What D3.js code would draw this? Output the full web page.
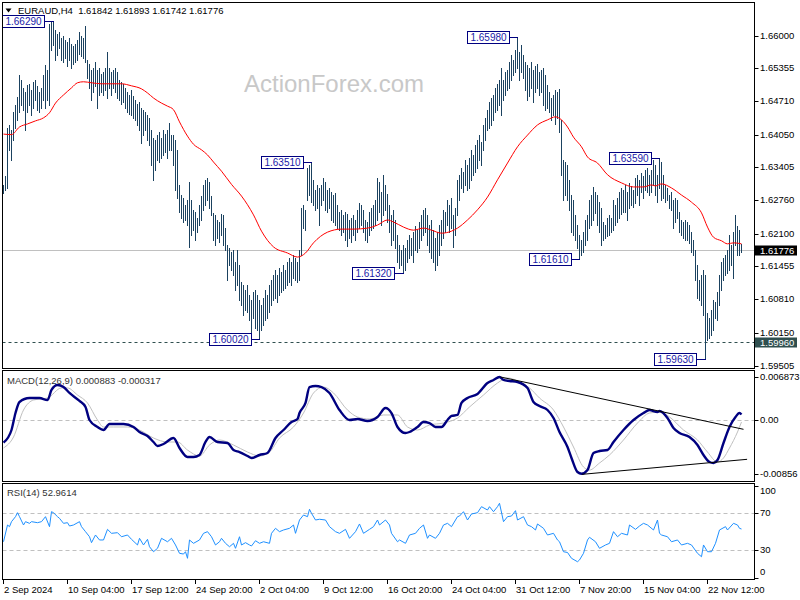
<!DOCTYPE html>
<html><head><meta charset="utf-8">
<script src="https://cdn.jsdelivr.net/npm/d3@7"></script>
<style>
body{margin:0;background:#fff}
svg{display:block}
text{font-family:"Liberation Sans",Arial,sans-serif;font-size:9.5px}
</style>
</head><body>
<svg id="c" width="800" height="600"></svg>
<script>
// ---------- DATA ----------
const headerText = "EURAUD,H4  1.61842 1.61893 1.61742 1.61776";
const lastPrice = 1.61776;
const supportLevel = 1.5996;

const highs = [
1.6306,1.6324,1.6418,1.6424,1.6414,1.6450,1.6464,1.6479,1.6522,1.6513,
1.6497,1.6489,1.6503,1.6505,1.6493,1.6509,1.6513,1.6501,1.6489,1.6497,
1.6522,1.6542,1.6532,1.6622,1.6626,1.6629,1.6611,1.6603,1.6607,1.6595,
1.6599,1.6591,1.6587,1.6595,1.6583,1.6579,1.6583,1.6591,1.6607,1.6599,
1.6595,1.6619,1.6552,1.6544,1.6532,1.6536,1.6548,1.6532,1.6536,1.6524,
1.6528,1.6536,1.6568,1.6536,1.6528,1.6532,1.6536,1.6528,1.6513,1.6509,
1.6505,1.6497,1.6489,1.6483,1.6493,1.6481,1.6473,1.6466,1.6470,1.6458,
1.6454,1.6450,1.6444,1.6438,1.6414,1.6399,1.6395,1.6405,1.6410,1.6399,
1.6414,1.6407,1.6414,1.6428,1.6405,1.6405,1.6395,1.6375,1.6306,1.6286,
1.6280,1.6267,1.6276,1.6312,1.6276,1.6257,1.6253,1.6241,1.6267,1.6284,
1.6306,1.6316,1.6320,1.6312,1.6284,1.6251,1.6247,1.6237,1.6233,1.6249,
1.6247,1.6221,1.6188,1.6182,1.6174,1.6178,1.6154,1.6178,1.6148,1.6115,
1.6109,1.6099,1.6109,1.6089,1.6080,1.6095,1.6099,1.6089,1.6080,1.6070,
1.6084,1.6099,1.6089,1.6109,1.6119,1.6129,1.6139,1.6129,1.6143,1.6135,
1.6148,1.6139,1.6154,1.6162,1.6154,1.6168,1.6162,1.6154,1.6178,1.6261,
1.6267,1.6257,1.6339,1.6345,1.6351,1.6316,1.6296,1.6306,1.6300,1.6306,
1.6320,1.6312,1.6296,1.6300,1.6292,1.6286,1.6290,1.6267,1.6253,1.6257,
1.6247,1.6253,1.6249,1.6237,1.6241,1.6247,1.6237,1.6257,1.6271,1.6267,
1.6257,1.6237,1.6233,1.6253,1.6261,1.6267,1.6276,1.6320,1.6312,1.6292,
1.6326,1.6306,1.6288,1.6267,1.6247,1.6257,1.6237,1.6207,1.6188,1.6178,
1.6188,1.6182,1.6198,1.6207,1.6202,1.6213,1.6225,1.6217,1.6233,1.6247,
1.6257,1.6261,1.6247,1.6227,1.6237,1.6217,1.6202,1.6213,1.6227,1.6237,
1.6257,1.6253,1.6276,1.6267,1.6280,1.6247,1.6261,1.6316,1.6326,1.6339,
1.6331,1.6355,1.6345,1.6359,1.6375,1.6365,1.6385,1.6395,1.6405,1.6391,
1.6424,1.6438,1.6454,1.6470,1.6477,1.6483,1.6497,1.6505,1.6513,1.6536,
1.6513,1.6528,1.6532,1.6548,1.6562,1.6552,1.6572,1.6598,1.6568,1.6581,
1.6562,1.6548,1.6542,1.6536,1.6548,1.6532,1.6540,1.6544,1.6528,1.6532,
1.6536,1.6522,1.6503,1.6489,1.6477,1.6483,1.6493,1.6489,1.6495,1.6434,
1.6355,1.6351,1.6345,1.6316,1.6286,1.6276,1.6247,1.6227,1.6207,1.6198,
1.6213,1.6237,1.6247,1.6276,1.6286,1.6302,1.6292,1.6286,1.6272,1.6261,
1.6233,1.6227,1.6241,1.6247,1.6241,1.6276,1.6267,1.6280,1.6292,1.6300,
1.6296,1.6306,1.6292,1.6310,1.6304,1.6296,1.6320,1.6326,1.6316,1.6330,
1.6324,1.6335,1.6339,1.6326,1.6335,1.6355,1.6345,1.6326,1.6359,1.6351,
1.6326,1.6306,1.6300,1.6286,1.6292,1.6276,1.6280,1.6276,1.6253,1.6237,
1.6233,1.6237,1.6233,1.6227,1.6213,1.6198,1.6178,1.6148,1.6119,1.6129,
1.6139,1.6129,1.6054,1.6044,1.6060,1.6080,1.6076,1.6095,1.6129,1.6154,
1.6162,1.6168,1.6178,1.6207,1.6188,1.6213,1.6247,1.6225,1.6217,1.61893];

const lows = [
1.6290,1.6296,1.6300,1.6375,1.6355,1.6395,1.6418,1.6434,1.6450,1.6464,
1.6454,1.6414,1.6450,1.6464,1.6444,1.6458,1.6473,1.6454,1.6450,1.6458,
1.6473,1.6458,1.6473,1.6464,1.6572,1.6581,1.6552,1.6562,1.6576,1.6552,
1.6548,1.6556,1.6540,1.6552,1.6536,1.6544,1.6548,1.6552,1.6564,1.6560,
1.6556,1.6548,1.6517,1.6497,1.6473,1.6489,1.6501,1.6458,1.6483,1.6489,
1.6483,1.6493,1.6477,1.6497,1.6483,1.6497,1.6489,1.6477,1.6473,1.6466,
1.6470,1.6458,1.6450,1.6446,1.6444,1.6438,1.6434,1.6424,1.6414,1.6389,
1.6405,1.6414,1.6395,1.6385,1.6345,1.6316,1.6335,1.6355,1.6351,1.6359,
1.6365,1.6371,1.6359,1.6375,1.6375,1.6345,1.6296,1.6281,1.6253,1.6241,
1.6233,1.6237,1.6227,1.6184,1.6207,1.6217,1.6198,1.6213,1.6227,1.6237,
1.6257,1.6267,1.6276,1.6261,1.6247,1.6198,1.6188,1.6202,1.6194,1.6207,
1.6188,1.6178,1.6119,1.6148,1.6139,1.6129,1.6099,1.6109,1.6080,1.6070,
1.6050,1.6060,1.6056,1.6040,1.6016,1.6044,1.6024,1.6020,1.6002,1.6020,
1.6030,1.6040,1.6044,1.6056,1.6070,1.6080,1.6084,1.6076,1.6089,1.6095,
1.6099,1.6103,1.6109,1.6115,1.6109,1.6123,1.6119,1.6115,1.6119,1.6168,
1.6221,1.6217,1.6276,1.6286,1.6273,1.6267,1.6257,1.6261,1.6227,1.6267,
1.6276,1.6257,1.6253,1.6261,1.6237,1.6233,1.6227,1.6221,1.6217,1.6207,
1.6213,1.6198,1.6186,1.6202,1.6194,1.6207,1.6198,1.6213,1.6221,1.6227,
1.6213,1.6198,1.6194,1.6207,1.6217,1.6221,1.6227,1.6237,1.6253,1.6227,
1.6247,1.6257,1.6233,1.6213,1.6188,1.6198,1.6182,1.6154,1.6143,1.6148,
1.6132,1.6139,1.6154,1.6162,1.6168,1.6154,1.6178,1.6174,1.6182,1.6198,
1.6207,1.6213,1.6188,1.6174,1.6162,1.6154,1.6139,1.6148,1.6168,1.6188,
1.6202,1.6213,1.6227,1.6213,1.6221,1.6184,1.6207,1.6247,1.6276,1.6300,
1.6292,1.6306,1.6296,1.6300,1.6316,1.6326,1.6331,1.6339,1.6355,1.6345,
1.6375,1.6395,1.6414,1.6418,1.6424,1.6434,1.6450,1.6454,1.6464,1.6444,
1.6473,1.6483,1.6493,1.6497,1.6513,1.6522,1.6528,1.6536,1.6513,1.6528,
1.6517,1.6493,1.6473,1.6481,1.6497,1.6470,1.6489,1.6497,1.6483,1.6489,
1.6464,1.6454,1.6458,1.6450,1.6434,1.6444,1.6426,1.6438,1.6410,1.6326,
1.6276,1.6286,1.6276,1.6257,1.6213,1.6207,1.6198,1.6182,1.6161,1.6168,
1.6174,1.6188,1.6198,1.6221,1.6227,1.6237,1.6251,1.6227,1.6213,1.6188,
1.6198,1.6202,1.6206,1.6207,1.6213,1.6217,1.6227,1.6233,1.6241,1.6249,
1.6253,1.6253,1.6237,1.6261,1.6267,1.6263,1.6271,1.6286,1.6267,1.6292,
1.6280,1.6296,1.6292,1.6286,1.6292,1.6306,1.6286,1.6272,1.6300,1.6276,
1.6280,1.6272,1.6276,1.6261,1.6257,1.6221,1.6233,1.6241,1.6213,1.6207,
1.6202,1.6198,1.6198,1.6192,1.6174,1.6168,1.6119,1.6084,1.6080,1.6070,
1.6050,1.5963,1.6001,1.6005,1.6011,1.6020,1.6044,1.6040,1.6070,1.6099,
1.6119,1.6129,1.6133,1.6139,1.6148,1.6123,1.6188,1.6168,1.6168,1.61742];

// moving average (bar index, price)
const maPts = [[0,1.6406],[4,1.6405],[8,1.6420],[12,1.6426],[16,1.6432],[20,1.6438],[23,1.6448],[26,1.6467],[30,1.6483],[34,1.6497],[37,1.6507],[40,1.6509],[44,1.6507],[49,1.6505],[54,1.6505],[59,1.6505],[64,1.6501],[69,1.6495],[72,1.6487],[75,1.6477],[79,1.6467],[82,1.6461],[85,1.6454],[88,1.6430],[92,1.6402],[95,1.6386],[99,1.6375],[102,1.6365],[105,1.6351],[109,1.6333],[114,1.6307],[119,1.6284],[122,1.6267],[125,1.6247],[129,1.6215],[135,1.6184],[142,1.6172],[147,1.6164],[151,1.6172],[155,1.6192],[162,1.6213],[169,1.6219],[175,1.6219],[182,1.6221],[187,1.6227],[192,1.6237],[195,1.6233],[200,1.6223],[205,1.6217],[210,1.6221],[214,1.6217],[219,1.6211],[224,1.6215],[227,1.6221],[232,1.6237],[237,1.6257],[242,1.6282],[247,1.6316],[252,1.6349],[257,1.6381],[262,1.6404],[267,1.6424],[272,1.6434],[276,1.6440],[279,1.6434],[282,1.6420],[285,1.6400],[289,1.6381],[292,1.6361],[297,1.6349],[302,1.6326],[309,1.6310],[315,1.6302],[320,1.6302],[324,1.6306],[326,1.6304],[329,1.6308],[334,1.6300],[339,1.6286],[344,1.6272],[349,1.6251],[352,1.6223],[355,1.6203],[359,1.6196],[362,1.6190],[365,1.6192],[369,1.6190]];

const priceTicks = [1.66000,1.65355,1.64710,1.64050,1.63405,1.62760,1.62100,1.61455,1.60810,1.60150,1.59505];

const pivotIdx = [25,128,154,200,257,288,328,351];
const pivotVal = [1.66290,1.60020,1.63510,1.61320,1.65980,1.61610,1.63590,1.59630];

const macdLabel = "MACD(12,26,9) 0.000883 -0.000317";
const macdPts = [[0,-0.00361],[4,-0.00159],[6,0.00111],[8,0.00287],[13,0.00350],[18,0.00350],[22,0.00318],[24,0.00478],[27,0.00557],[30,0.00525],[33,0.00430],[38,0.00303],[41,0.00207],[43,0],[47,-0.00111],[50,-0.00159],[53,-0.00064],[60,-0.00064],[65,-0.00111],[68,-0.00191],[72,-0.00255],[75,-0.00350],[77,-0.00414],[80,-0.00382],[85,-0.00287],[88,-0.00446],[92,-0.00589],[95,-0.00589],[98,-0.00557],[101,-0.00350],[103,-0.00271],[107,-0.00350],[112,-0.00366],[115,-0.00478],[118,-0.00510],[122,-0.00573],[124,-0.00605],[128,-0.00557],[132,-0.00525],[136,-0.00287],[140,-0.00159],[144,-0.00032],[147,0.00016],[148,0.00111],[151,0.00271],[153,0.00525],[156,0.00541],[159,0.00525],[163,0.00430],[168,0.00159],[173,0],[177,0.00016],[182,-0.00016],[187,0.00048],[191,0.00191],[194,0.00111],[197,-0.00111],[201,-0.00207],[203,-0.00191],[207,-0.00111],[210,-0.00032],[213,-0.00048],[216,-0.00111],[219,-0.00111],[222,0],[224,0.00064],[227,0.00080],[229,0.00271],[232,0.00350],[237,0.00414],[242,0.00589],[245,0.00637],[248,0.00685],[250,0.00637],[253,0.00621],[257,0.00605],[262,0.00510],[265,0.00287],[268,0.00223],[272,0.00159],[275,0.00032],[278,-0.00191],[282,-0.00430],[284,-0.00605],[287,-0.00828],[289,-0.00856],[292,-0.00796],[295,-0.00525],[298,-0.00494],[302,-0.00478],[305,-0.00350],[310,-0.00159],[315,0],[320,0.00111],[323,0.00159],[327,0.00127],[328,0.00143],[332,0.00032],[335,-0.00127],[338,-0.00207],[343,-0.00271],[347,-0.00398],[350,-0.00557],[353,-0.00669],[355,-0.00685],[357,-0.00637],[360,-0.00366],[363,-0.00111],[366,0.00048],[368,0.00111],[369,0.000883]];
const signalPts = [[0,-0.00446],[5,-0.00271],[10,0.00159],[15,0.00318],[22,0.00350],[29,0.00510],[32,0.00510],[37,0.00398],[42,0.00271],[47,0],[50,-0.00111],[55,-0.00111],[62,-0.00111],[68,-0.00159],[75,-0.00287],[82,-0.00350],[87,-0.00350],[92,-0.00478],[98,-0.00573],[103,-0.00398],[108,-0.00318],[115,-0.00398],[122,-0.00510],[128,-0.00573],[133,-0.00510],[138,-0.00287],[145,-0.00111],[150,0.00111],[155,0.00430],[160,0.00525],[165,0.00430],[172,0.00159],[177,0.00048],[183,0.00016],[190,0.00080],[197,0.00080],[202,-0.00111],[207,-0.00159],[213,-0.00080],[220,-0.00048],[227,0.00032],[233,0.00207],[240,0.00398],[247,0.00589],[252,0.00669],[258,0.00605],[263,0.00510],[268,0.00350],[275,0.00159],[280,-0.00111],[285,-0.00430],[290,-0.00748],[293,-0.00796],[298,-0.00685],[303,-0.00557],[310,-0.00318],[317,-0.00048],[323,0.00111],[328,0.00127],[333,0.00048],[340,-0.00159],[347,-0.00318],[352,-0.00510],[357,-0.00669],[360,-0.00605],[363,-0.00446],[367,-0.00191],[369,-0.000317]];
const macdTicks = [0.006873, 0, -0.00856];
const macdTicksText = ["0.006873","0.00","-0.00856"];
const macdTrendlines = [[[248.5,0.00685],[370,-0.00148]],[[289.3,-0.00865],[371.8,-0.00626]]];

const rsiLabel = "RSI(14) 52.9614";
const rsiPts = [[0,39.2],[2,57.3],[3,55.5],[4,60.9],[6,66.3],[7,70.6],[8,66.3],[10,57.3],[11,60.9],[13,59.1],[14,60.9],[17,59.8],[19,60.9],[21,66.3],[23,55.5],[24,71.7],[25,70.6],[27,66.3],[28,64.5],[30,59.1],[32,59.8],[33,56.2],[35,57.3],[38,60.9],[39,55.5],[41,50.1],[43,44.6],[44,38.2],[46,46.5],[48,41.1],[50,41.1],[52,52.6],[54,48.3],[57,49.0],[59,44.6],[62,46.5],[64,41.8],[67,35.7],[68,42.9],[70,35.7],[72,41.8],[73,33.8],[75,28.4],[77,32.1],[79,42.9],[82,39.2],[84,42.9],[86,35.7],[88,26.7],[90,25.9],[91,28.4],[92,21.3],[93,41.1],[95,37.5],[98,41.1],[100,48.3],[102,50.1],[104,44.6],[106,35.7],[108,39.2],[109,42.9],[111,37.5],[113,33.8],[115,37.5],[116,32.1],[118,44.6],[119,35.7],[121,38.2],[123,35.7],[124,34.6],[126,40.3],[128,37.5],[130,39.2],[133,37.5],[134,48.3],[136,53.7],[138,50.1],[140,51.9],[143,53.7],[145,57.3],[146,48.3],[148,62.7],[150,68.1],[152,66.3],[153,74.3],[154,69.9],[156,62.7],[158,63.5],[161,62.7],[163,55.5],[166,50.1],[168,48.3],[171,52.6],[173,42.9],[176,50.1],[178,58.4],[180,48.3],[183,52.6],[185,55.5],[187,62.7],[188,57.3],[191,62.7],[193,57.3],[194,48.3],[197,39.2],[198,41.1],[201,37.5],[203,46.5],[206,48.3],[208,53.7],[210,57.3],[212,42.9],[213,46.5],[216,42.9],[218,48.3],[220,57.3],[222,59.1],[224,55.5],[227,66.3],[228,67.0],[230,71.7],[232,62.7],[234,69.2],[237,70.6],[239,77.1],[242,73.5],[243,77.1],[245,71.7],[247,77.1],[248,80.8],[250,60.9],[252,66.3],[254,67.0],[256,72.8],[257,62.7],[260,66.3],[262,57.3],[264,55.5],[266,51.9],[267,58.4],[270,53.7],[272,46.5],[275,48.3],[277,41.1],[278,39.2],[280,28.4],[282,27.6],[284,21.3],[287,17.6],[288,19.5],[290,26.7],[292,41.1],[293,44.0],[296,39.2],[298,32.1],[301,35.7],[303,37.5],[305,50.1],[307,44.6],[309,48.3],[312,46.5],[313,57.3],[316,52.6],[318,56.2],[320,59.1],[322,57.3],[325,51.9],[327,62.7],[328,48.3],[329,46.5],[332,44.6],[334,39.2],[337,41.1],[339,35.7],[342,37.5],[344,35.7],[347,26.7],[349,23.0],[350,35.7],[352,28.4],[354,28.4],[356,37.5],[358,51.9],[361,55.5],[362,51.9],[365,59.1],[367,57.3],[368,53.7],[369,52.96]];
const rsiTicks = [100,70,30,0];
const rsiLevels = [70,30];

const xTickIdx = [0,32,64,96,128,160,192,224,256,288,320,352];
const xTickText = ["2 Sep 2024","10 Sep 04:00","17 Sep 12:00","24 Sep 20:00","2 Oct 04:00","9 Oct 12:00","16 Oct 20:00","24 Oct 04:00","31 Oct 12:00","7 Nov 20:00","15 Nov 04:00","22 Nov 12:00"];

// ---------- LAYOUT ----------
const svg = d3.select("#c");
const L = 2.5, R = 754.5;
const P = {main:[2.5,368.5], macd:[370.5,481.5], rsi:[483.5,579.5]};
const x = d3.scaleLinear().domain([0,369]).range([3.5,741.5]);
const yP = d3.scaleLinear().domain([1.59437,1.66640]).range([369,3]);
const yM = d3.scaleLinear().domain([-0.00979,0.00788]).range([481.5,370.5]);
const yR = d3.scaleLinear().domain([0,100]).range([578,485.5]);

const defs = svg.append("defs");
Object.entries(P).forEach(([k,[t,b]])=>{
  defs.append("clipPath").attr("id","clip-"+k).append("rect")
    .attr("x",L+0.5).attr("y",t+0.5).attr("width",R-L-1).attr("height",b-t-1);
});

// ---------- MAIN PANEL ----------
const gM = svg.append("g").attr("clip-path","url(#clip-main)");
gM.append("text").attr("x",244).attr("y",91.5).text("ActionForex.com")
  .style("font-size","24px").attr("fill","#c8c8c8");

gM.append("line").attr("x1",L).attr("x2",R)
  .attr("y1",Math.round(yP(lastPrice))+0.5).attr("y2",Math.round(yP(lastPrice))+0.5)
  .attr("stroke","#c0c0c0");
gM.append("line").attr("x1",L).attr("x2",R)
  .attr("y1",Math.round(yP(supportLevel))+0.5).attr("y2",Math.round(yP(supportLevel))+0.5)
  .attr("stroke","#2f4f4f").attr("stroke-dasharray","3,3");

gM.selectAll("rect.bar").data(highs.map((h,i)=>({i,h,l:lows[i]}))).join("rect")
  .attr("class","bar")
  .attr("x",d=>x(d.i)-0.5).attr("width",1)
  .attr("y",d=>Math.round(yP(d.h)))
  .attr("height",d=>Math.max(1,Math.round(yP(d.l))-Math.round(yP(d.h))+1))
  .attr("fill","#1b4260").attr("shape-rendering","crispEdges");

gM.append("path").datum(maPts)
  .attr("d",d3.line().x(d=>x(d[0])).y(d=>yP(d[1])).curve(d3.curveMonotoneX))
  .attr("fill","none").attr("stroke","#ff0000").attr("stroke-width",1);

// pivot labels
pivotIdx.forEach((bi,k)=>{
  const v = pivotVal[k];
  const bx = x(bi), py = Math.round(yP(v))+0.5;
  const right = Math.round(bx-9)+0.5, left = right-42;
  gM.append("line").attr("x1",right).attr("x2",bx+0.5).attr("y1",py).attr("y2",py)
    .attr("stroke","#000080");
  gM.append("rect").attr("x",left).attr("y",py-6).attr("width",42).attr("height",12)
    .attr("fill","#fff").attr("stroke","#000080");
  gM.append("text").attr("x",(left+right)/2).attr("y",py+3.5).attr("text-anchor","middle")
    .attr("fill","#1a1aa8").text(v.toFixed(5)).style("font-size","10px");
});

// header
svg.append("path").attr("d","M5.5,8.5 L11.5,8.5 L8.5,12.5 Z").attr("fill","#000");
svg.append("text").attr("x",18).attr("y",13.5).style("white-space","pre").text(headerText);

// ---------- MACD PANEL ----------
const gD = svg.append("g").attr("clip-path","url(#clip-macd)");
gD.append("line").attr("x1",L).attr("x2",R)
  .attr("y1",Math.round(yM(0))+0.5).attr("y2",Math.round(yM(0))+0.5)
  .attr("stroke","#c0c0c0").attr("stroke-dasharray","4,3");
gD.append("path").datum(signalPts)
  .attr("d",d3.line().x(d=>x(d[0])).y(d=>yM(d[1])).curve(d3.curveMonotoneX))
  .attr("fill","none").attr("stroke","#c0c0c0").attr("stroke-width",1);
gD.append("path").datum(macdPts)
  .attr("d",d3.line().x(d=>x(d[0])).y(d=>yM(d[1])).curve(d3.curveMonotoneX))
  .attr("fill","none").attr("stroke","#000080").attr("stroke-width",2.4)
  .attr("stroke-linejoin","round");
macdTrendlines.forEach(tl=>{
  gD.append("line").attr("x1",x(tl[0][0])).attr("y1",yM(tl[0][1]))
    .attr("x2",x(tl[1][0])).attr("y2",yM(tl[1][1])).attr("stroke","#000").attr("stroke-width",1);
});
svg.append("text").attr("x",7).attr("y",384).attr("fill","#333").text(macdLabel);

// ---------- RSI PANEL ----------
const gR = svg.append("g").attr("clip-path","url(#clip-rsi)");
rsiLevels.forEach(l=>{
  gR.append("line").attr("x1",L).attr("x2",R)
    .attr("y1",Math.round(yR(l))+0.5).attr("y2",Math.round(yR(l))+0.5)
    .attr("stroke","#c0c0c0").attr("stroke-dasharray","4,3");
});
gR.append("path").datum(rsiPts)
  .attr("d",d3.line().x(d=>x(d[0])).y(d=>yR(d[1])))
  .attr("fill","none").attr("stroke","#1e90ff").attr("stroke-width",1);
svg.append("text").attr("x",7).attr("y",496).attr("fill","#333").text(rsiLabel);

// ---------- FRAMES ----------
Object.values(P).forEach(([t,b])=>{
  svg.append("rect").attr("x",L).attr("y",t).attr("width",R-L).attr("height",b-t)
    .attr("fill","none").attr("stroke","#000").attr("shape-rendering","crispEdges");
});

// ---------- RIGHT AXES ----------
const ax = svg.append("g");
function rlabel(y,txt,dy){
  ax.append("line").attr("x1",R).attr("x2",R+4).attr("y1",Math.round(y)+0.5).attr("y2",Math.round(y)+0.5)
    .attr("stroke","#000");
  ax.append("text").attr("x",760).attr("y",Math.round(y)+(dy||0)+3).text(txt);
}
priceTicks.forEach(v=>rlabel(yP(v),v.toFixed(5)));
// current price & support tags
[[lastPrice,"#000"],[supportLevel,"#2f4f4f"]].forEach(([v,c])=>{
  const yy = Math.round(yP(v));
  ax.append("rect").attr("x",755).attr("y",yy-4.5).attr("width",42).attr("height",10).attr("fill",c);
  ax.append("text").attr("x",760).attr("y",yy+4).attr("fill","#fff").text(v.toFixed(5));
});
macdTicks.forEach((v,k)=>rlabel(yM(v),macdTicksText[k]));
rsiTicks.forEach(v=>rlabel(yR(v),String(v), v===100?5:(v===0?-6:0)));

// ---------- X AXIS ----------
xTickIdx.forEach((bi,k)=>{
  const xx = x(bi);
  ax.append("line").attr("x1",xx).attr("x2",xx).attr("y1",579.5).attr("y2",584).attr("stroke","#000");
  ax.append("text").attr("x",xx+0.5).attr("y",592.5).text(xTickText[k]);
});
</script>
</body></html>
